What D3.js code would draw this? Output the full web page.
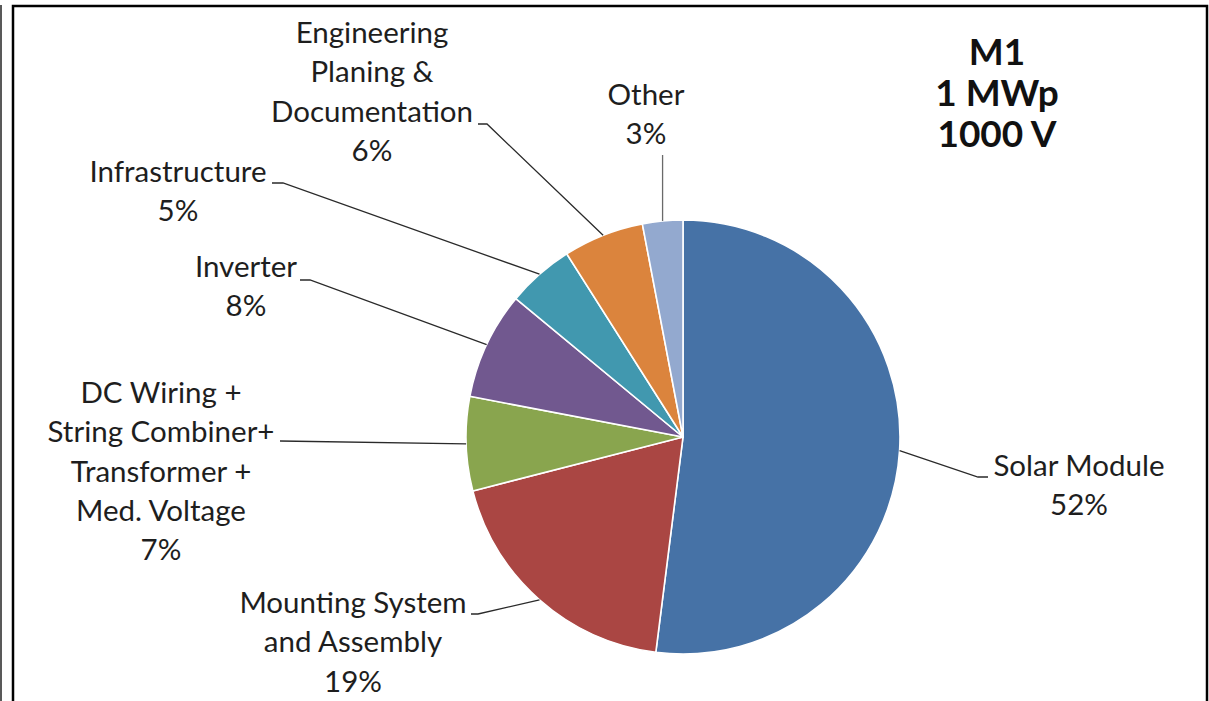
<!DOCTYPE html>
<html>
<head>
<meta charset="utf-8">
<script src="https://cdn.jsdelivr.net/npm/d3@7/dist/d3.min.js"></script>
<style>
  html, body { margin: 0; padding: 0; background: #fff; }
  svg { display: block; }
</style>
</head>
<body>
<svg id="chart" width="1209" height="701"></svg>
<script>
// Cost breakdown of a 1 MWp / 1000 V PV plant (shares in percent)
const categories = [
  "Solar Module",
  "Mounting System\nand Assembly",
  "DC Wiring +\nString Combiner+\nTransformer +\nMed. Voltage",
  "Inverter",
  "Infrastructure",
  "Engineering\nPlaning &\nDocumentation",
  "Other"
];
const shares = [52, 19, 7, 8, 5, 6, 3];
const sliceColors = ["#4672a6", "#aa4643", "#89a54e", "#71588f", "#4198af", "#db843d", "#93a9cf"];
const titleLines = ["M1", "1 MWp", "1000 V"];

// Label placement: block centre, first baseline, leader elbow and end point
const labelLayout = [
  { cx: 1079, y: 476, elbow: [978, 477], end: [988, 477] },
  { cx: 353,  y: 613, elbow: [478, 614], end: [471, 614] },
  { cx: 161,  y: 403, elbow: null,       end: [280, 441] },
  { cx: 246,  y: 277, elbow: [310, 280], end: [300, 280] },
  { cx: 178,  y: 182, elbow: [283, 183], end: [272, 183] },
  { cx: 372,  y: 43,  elbow: [487, 124], end: [478, 124] },
  { cx: 646,  y: 105, elbow: null,       end: [null, 155] }
];

const W = 1209, H = 701;
const cx = 683, cy = 437, R = 217;
const lineStep = 39.3;
const font = "Lato, 'Open Sans', sans-serif";

const svg = d3.select("#chart");

// frame
svg.append("line").attr("x1", 1).attr("x2", 1).attr("y1", 5).attr("y2", H)
  .attr("stroke", "#222").attr("stroke-width", 1.5);
svg.append("rect").attr("x", 13).attr("y", 6).attr("width", 1194).attr("height", H + 20)
  .attr("fill", "none").attr("stroke", "#000").attr("stroke-width", 2.5);

const pie = d3.pie().sort(null).value(d => d);
const arcs = pie(shares);
const arc = d3.arc().innerRadius(0).outerRadius(R);
const edge = d3.arc().innerRadius(R).outerRadius(R);

const g = svg.append("g").attr("transform", `translate(${cx},${cy})`);
g.selectAll("path.slice")
  .data(arcs)
  .join("path")
  .attr("class", "slice")
  .attr("d", arc)
  .attr("fill", (d, i) => sliceColors[i])
  .attr("stroke", "#fff")
  .attr("stroke-width", 1.6)
  .attr("stroke-linejoin", "round");

// leader lines
const leaders = svg.append("g")
  .attr("fill", "none")
  .attr("stroke", "#2a2a2a")
  .attr("stroke-width", 1.3);

arcs.forEach((d, i) => {
  const p = edge.centroid(d);
  const start = [p[0] + cx, p[1] + cy];
  const L = labelLayout[i];
  const pts = [start];
  if (L.elbow) pts.push(L.elbow);
  pts.push([L.end[0] === null ? start[0] : L.end[0], L.end[1]]);
  leaders.append("path").attr("d", d3.line()(pts))
    .attr("stroke", i === 6 ? "#6a6a6a" : null);
});

// category labels with percentage
const labels = svg.append("g")
  .attr("font-family", font)
  .attr("font-size", 29.5)
  .attr("fill", "#1e1e1e")
  .attr("text-anchor", "middle");

categories.forEach((name, i) => {
  const L = labelLayout[i];
  const lines = name.split("\n").concat([shares[i] + "%"]);
  const t = labels.append("text");
  lines.forEach((ln, k) => {
    t.append("tspan").attr("x", L.cx).attr("y", L.y + k * lineStep).text(ln);
  });
});

// chart title block
const title = svg.append("text")
  .attr("font-family", font)
  .attr("font-weight", "bold")
  .attr("font-size", 37)
  .attr("fill", "#111")
  .attr("text-anchor", "middle");
titleLines.forEach((ln, k) => {
  title.append("tspan").attr("x", 997).attr("y", 65 + k * 41).text(ln);
});
</script>
</body>
</html>
